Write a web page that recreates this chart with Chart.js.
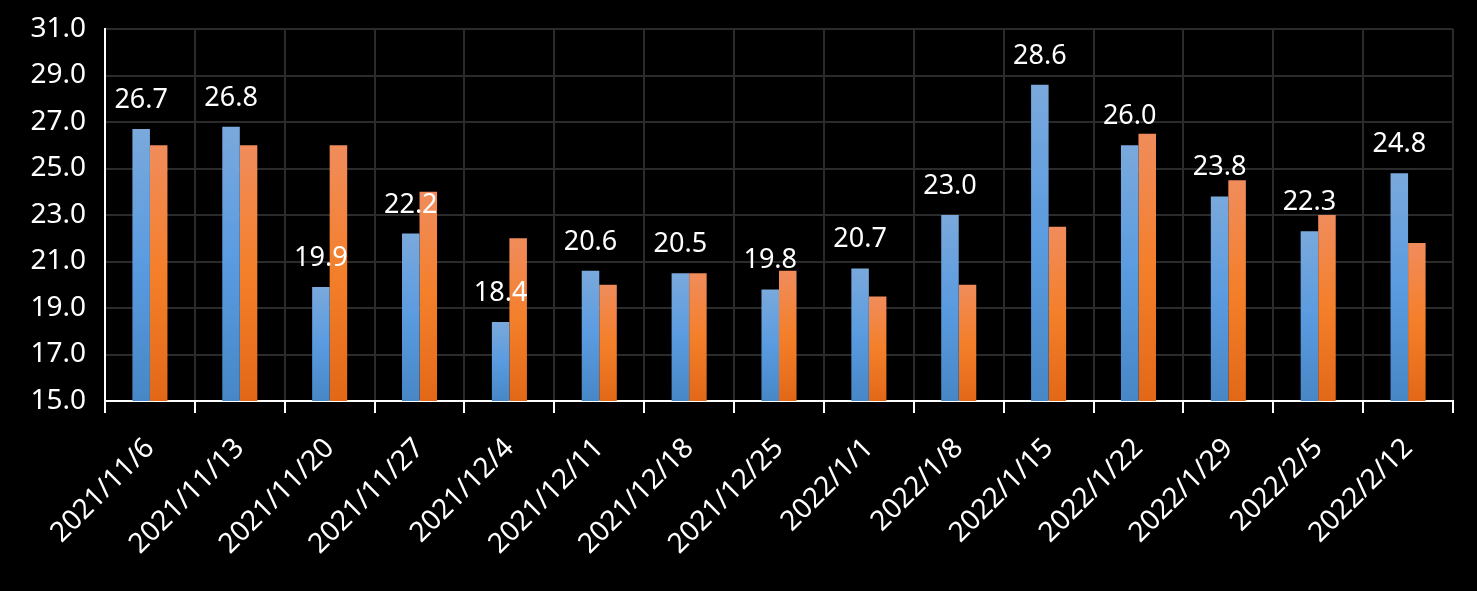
<!DOCTYPE html>
<html>
<head>
<meta charset="utf-8">
<script src="https://cdn.jsdelivr.net/npm/chart.js@4"></script>
<style>
  html, body { margin: 0; padding: 0; background: #000; }
  #wrap { width: 1477px; height: 591px; position: relative; }
</style>
</head>
<body>
<div id="wrap"><canvas id="chart"></canvas></div>
<script>
const weeks = ['2021/11/6', '2021/11/13', '2021/11/20', '2021/11/27', '2021/12/4', '2021/12/11', '2021/12/18',
    '2021/12/25', '2022/1/1', '2022/1/8', '2022/1/15', '2022/1/22', '2022/1/29', '2022/2/5', '2022/2/12'];
const blueValues = [26.7, 26.8, 19.9, 22.2, 18.4, 20.6, 20.5, 19.8, 20.7, 23.0, 28.6, 26.0, 23.8, 22.3, 24.8];
const orangeValues = [26.0, 26.0, 26.0, 24.0, 22.0, 20.0, 20.5, 20.6, 19.5, 20.0, 22.5, 26.5, 24.5, 23.0, 21.8];
const yMin = 15;
const yMax = 31;
const yStep = 2;

const FONT = '"Noto Sans", "Open Sans", sans-serif';

// gradient per bar: light top, stronger middle, darker bottom
function barGradient(stops, fallback) {
    return (ctx) => {
        const chart = ctx.chart;
        if (!chart.chartArea || ctx.raw == null) return fallback;
        const y = chart.scales.y;
        const top = y.getPixelForValue(ctx.raw);
        const bottom = y.getPixelForValue(y.min);
        if (!isFinite(top) || !isFinite(bottom) || top === bottom) return fallback;
        const g = chart.ctx.createLinearGradient(0, top, 0, bottom);
        g.addColorStop(0, stops[0]);
        g.addColorStop(0.5, stops[1]);
        g.addColorStop(1, stops[2]);
        return g;
    };
}

const valueLabels = {
    id: 'valueLabels',
    afterDatasetsDraw(chart) {
        const ctx = chart.ctx;
        const meta = chart.getDatasetMeta(0);
        ctx.save();
        ctx.fillStyle = '#ffffff';
        ctx.font = '27px ' + FONT;
        ctx.textAlign = 'center';
        ctx.textBaseline = 'alphabetic';
        meta.data.forEach((bar, i) => {
            ctx.fillText(blueValues[i].toFixed(1), bar.x, bar.y - 21);
        });
        ctx.restore();
    }
};

new Chart(document.getElementById('chart'), {
    type: 'bar',
    data: {
        labels: weeks,
        datasets: [{
            data: blueValues,
            backgroundColor: barGradient(['#7aa9dc', '#5a9be0', '#4787c6'], '#5b9bd5'),
            barPercentage: 1,
            categoryPercentage: 0.39,
        }, {
            data: orangeValues,
            backgroundColor: barGradient(['#f08c5c', '#f47f2a', '#e26818'], '#ed7d31'),
            barPercentage: 1,
            categoryPercentage: 0.39,
        }],
    },
    options: {
        responsive: true,
        maintainAspectRatio: false,
        animation: false,
        layout: { padding: { left: 0, right: 24, top: 29, bottom: 0 } },
        plugins: { legend: { display: false }, tooltip: { enabled: false } },
        scales: {
            x: {
                grid: { color: '#2b2b2b', lineWidth: 2, tickColor: '#ffffff', tickLength: 12, offset: true },
                border: { color: '#ffffff', width: 2 },
                ticks: {
                    color: '#ffffff',
                    font: { family: FONT, size: 28 },
                    maxRotation: 45,
                    minRotation: 45,
                    autoSkip: false,
                    padding: 19,
                    labelOffset: 0,
                },
                afterFit: (scale) => { scale.height = 190; },
            },
            y: {
                min: yMin,
                max: yMax,
                grid: { color: '#2b2b2b', lineWidth: 2, drawTicks: false },
                border: { color: '#ffffff', width: 2 },
                ticks: {
                    stepSize: yStep,
                    color: '#ffffff',
                    font: { family: FONT, size: 28 },
                    padding: 19,
                    callback: (v) => Number(v).toFixed(1),
                },
                afterFit: (scale) => {
                    scale.width = 105;
                    scale.paddingTop = 0;
                    scale.paddingBottom = 0;
                },
            },
        },
    },
    plugins: [valueLabels],
});
</script>
</body>
</html>
